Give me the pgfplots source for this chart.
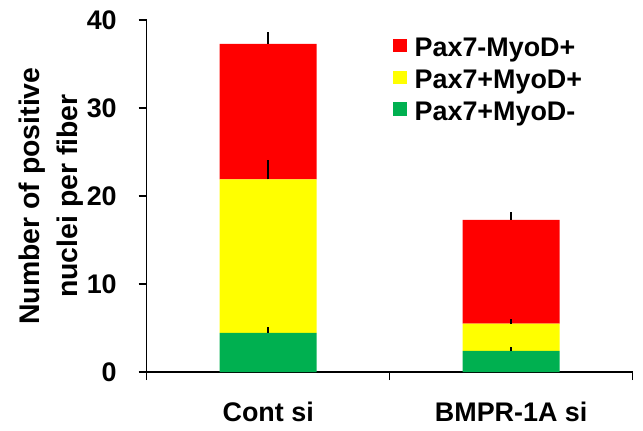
\documentclass[border=0pt]{standalone}
\usepackage{fontspec}
\setmainfont{Liberation Sans}
\usepackage{pgfplots}
\pgfplotsset{compat=1.18}
\definecolor{barred}{HTML}{FF0000}
\definecolor{baryellow}{HTML}{FFFF00}
\definecolor{bargreen}{HTML}{00B050}
\newcommand{\chartfont}{\bfseries\fontsize{27}{33}\selectfont}
\newcommand{\labelfont}{\bfseries\fontsize{28.5}{38}\selectfont}

\pgfplotsset{
  panel/.style={
    width=486bp, height=352bp, scale only axis,
    xmin=-0.5, xmax=1.5, ymin=0, ymax=40,
  },
  errbar/.style={
    draw=none, mark=none,
    error bars/.cd, y dir=plus, y explicit, error mark=none,
    error bar style={draw=black, line width=1.6pt},
  },
}

\begin{document}
\begin{tikzpicture}
\useasboundingbox (-146.7bp,-59bp) rectangle (496.3bp,372bp);
\begin{axis}[panel,
  ybar stacked, bar width=97bp,
  axis x line*=bottom, axis y line*=left,
  axis line style={line width=1.5pt, black},
  tick align=outside, major tick length=8bp,
  tick style={line width=1.5pt, black},
  ytick={0,10,20,30,40},
  xtick={-0.5,0.5,1.5}, xticklabels={},
  extra x ticks={0,1}, extra x tick labels={Cont si, BMPR-1A si},
  extra x tick style={major tick length=0pt},
  /pgf/number format/assume math mode=true,
  tick label style={font=\chartfont},
  yticklabel style={xshift=-18.5bp},
  xticklabel style={yshift=-26bp},
  ylabel={Number of positive\\nuclei per fiber},
  ylabel style={align=center, font=\labelfont},
  ylabel shift=-3.5bp,
  reverse legend,
  legend style={at={(0.503,0.957)}, anchor=north west, draw=none, fill=none,
    font=\chartfont, inner sep=2bp, row sep=9.6bp,
    nodes={inner sep=1bp, font=\chartfont},
    /tikz/every odd column/.style={column sep=7bp}},
  legend cell align=left,
  legend image code/.code={\fill[#1] (0bp,-4bp) rectangle (13.3bp,9.3bp);},
]
\addplot[fill=bargreen, draw=none] coordinates {(0,4.45) (1,2.4)};
\addplot[fill=baryellow, draw=none] coordinates {(0,17.45) (1,3.1)};
\addplot[fill=barred, draw=none] coordinates {(0,15.4) (1,11.8)};
\legend{Pax7+MyoD-, Pax7+MyoD+, Pax7-MyoD+}
\end{axis}
\begin{axis}[panel, hide axis]
\addplot[errbar] coordinates {(0,4.45) +- (0,0.65) (1,2.4) +- (0,0.45)};
\addplot[errbar] coordinates {(0,21.9) +- (0,2.15) (1,5.5) +- (0,0.55)};
\addplot[errbar] coordinates {(0,37.3) +- (0,1.36) (1,17.3) +- (0,0.85)};
\end{axis}
\end{tikzpicture}
\end{document}
